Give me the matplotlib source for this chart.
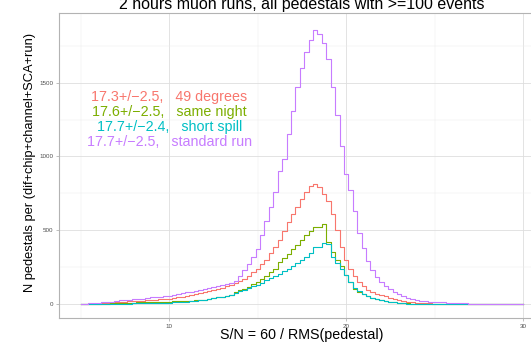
import numpy as np
import matplotlib
matplotlib.use("Agg")
import matplotlib.pyplot as plt
from matplotlib.ticker import MultipleLocator

plt.rcParams['font.family'] = ['Liberation Sans', 'DejaVu Sans']

# bin centres of the S/N histograms (bin width 0.25)
sn = np.arange(5.0, 30.01, 0.25)

# N pedestals per bin
standard_run = [
    2, 3, 5, 6, 9, 11, 14, 17, 22, 26, 29, 31, 33, 36, 38, 42, 45, 48, 51, 54,
    57, 61, 66, 72, 79, 85, 90, 96, 103, 110, 118, 124, 128, 136, 145, 160, 192, 228, 272, 320,
    370, 470, 560, 660, 760, 900, 985, 1150, 1310, 1470, 1600, 1710, 1790, 1855, 1830, 1770, 1660, 1470, 1280, 1070,
    880, 770, 630, 480, 380, 290, 230, 185, 150, 125, 100, 82, 66, 54, 44, 35, 29, 24, 20, 17,
    15, 14, 14, 10, 8, 7, 6, 5, 4, 3, 3, 2, 2, 2, 1, 1, 1, 1, 1, 1,
    0]
deg49 = [
    1, 1, 2, 3, 4, 6, 8, 10, 12, 14, 16, 18, 20, 22, 24, 27, 29, 31, 33, 36,
    38, 42, 46, 51, 56, 61, 66, 73, 80, 87, 95, 102, 110, 120, 128, 140, 155, 170, 190, 215,
    240, 270, 300, 345, 390, 435, 495, 555, 610, 660, 715, 760, 800, 815, 790, 745, 700, 610, 500, 390,
    300, 240, 190, 150, 120, 98, 80, 70, 62, 52, 42, 35, 28, 22, 17, 13, 10, 8, 6, 5,
    4, 3, 2, 2, 1, 1, 1, 1, 0, 0, 0, 0, 0, 0, 0, 0, 0, 0, 0, 0,
    0]
same_night = [
    0, 1, 1, 2, 2, 3, 4, 5, 6, 7, 8, 9, 10, 11, 12, 13, 14, 15, 15, 16,
    17, 18, 19, 20, 22, 23, 25, 28, 31, 35, 40, 45, 51, 57, 64, 80, 96, 105, 118, 135,
    150, 170, 190, 218, 240, 285, 310, 340, 370, 400, 435, 470, 495, 525, 520, 540, 420, 350, 300, 255,
    200, 150, 105, 85, 68, 55, 44, 36, 28, 22, 17, 13, 10, 7, 5, 4, 3, 2, 2, 1,
    1, 1, 1, 0, 0, 0, 0, 0, 0, 0, 0, 0, 0, 0, 0, 0, 0, 0, 0, 0,
    0]
short_spill = [
    0, 0, 1, 1, 1, 1, 2, 2, 3, 3, 4, 4, 5, 5, 6, 7, 7, 8, 9, 9,
    10, 11, 13, 14, 16, 18, 21, 25, 29, 34, 39, 45, 51, 57, 64, 74, 86, 97, 108, 120,
    132, 145, 162, 175, 190, 205, 222, 235, 255, 280, 300, 320, 345, 390, 385, 415, 410, 320, 280, 235,
    195, 150, 112, 88, 66, 52, 42, 33, 25, 19, 14, 11, 8, 6, 4, 3, 2, 2, 1, 1,
    1, 1, 0, 0, 0, 0, 0, 0, 0, 0, 0, 0, 0, 0, 0, 0, 0, 0, 0, 0,
    0]

series = [deg49, same_night, short_spill, standard_run]
colors = ['#F8766D', '#7CAE00', '#00BFC4', '#C77CFF']
labels = ['17.3+/\u22122.5,   49 degrees',
          '17.6+/\u22122.5,   same night',
          '17.7+/\u22122.4,   short spill',
          '17.7+/\u22122.5,   standard run']
label_y = [1400, 1300, 1200, 1100]

fig = plt.figure(figsize=(5.31, 3.42), dpi=100)
ax = fig.add_axes([59 / 531, 24 / 342, 486 / 531, 305.3 / 342])

for vals, c in zip(series, colors):
    ax.step(sn, vals, where='mid', color=c, lw=0.8)

for txt, y, c in zip(labels, label_y, colors):
    ax.text(10, y, txt, color=c, fontsize=10.3, ha='center', va='center')

ax.set_xlim(3.75, 31.25)
ax.set_ylim(-94, 1974)
ax.xaxis.set_major_locator(MultipleLocator(10))
ax.xaxis.set_minor_locator(MultipleLocator(5))
ax.yaxis.set_major_locator(MultipleLocator(500))
ax.yaxis.set_minor_locator(MultipleLocator(250))
ax.grid(which='major', color='#DEDEDE', lw=0.6)
ax.grid(which='minor', color='#EDEDED', lw=0.35)
ax.set_axisbelow(True)
for s in ax.spines.values():
    s.set_color('#B3B3B3')
    s.set_linewidth(0.8)
ax.tick_params(which='major', length=2.5, width=0.6, color='#B3B3B3',
               labelsize=4.5, labelcolor='#4D4D4D', pad=1.5)
ax.tick_params(which='minor', length=0)

fig.text(302 / 531, 1 - 9.5 / 342, '2 hours muon runs, all pedestals with >=100 events',
         fontsize=11.5, ha='center', va='baseline')
fig.text(302 / 531, 1 - 338.5 / 342, 'S/N = 60 / RMS(pedestal)',
         fontsize=10.3, ha='center', va='baseline')
fig.text(30 / 531, 1 - 162 / 342, 'N pedestals per (dif+chip+channel+SCA+run)',
         fontsize=9.3, ha='center', va='center', rotation=90)

fig.savefig('out.png', dpi=100)
